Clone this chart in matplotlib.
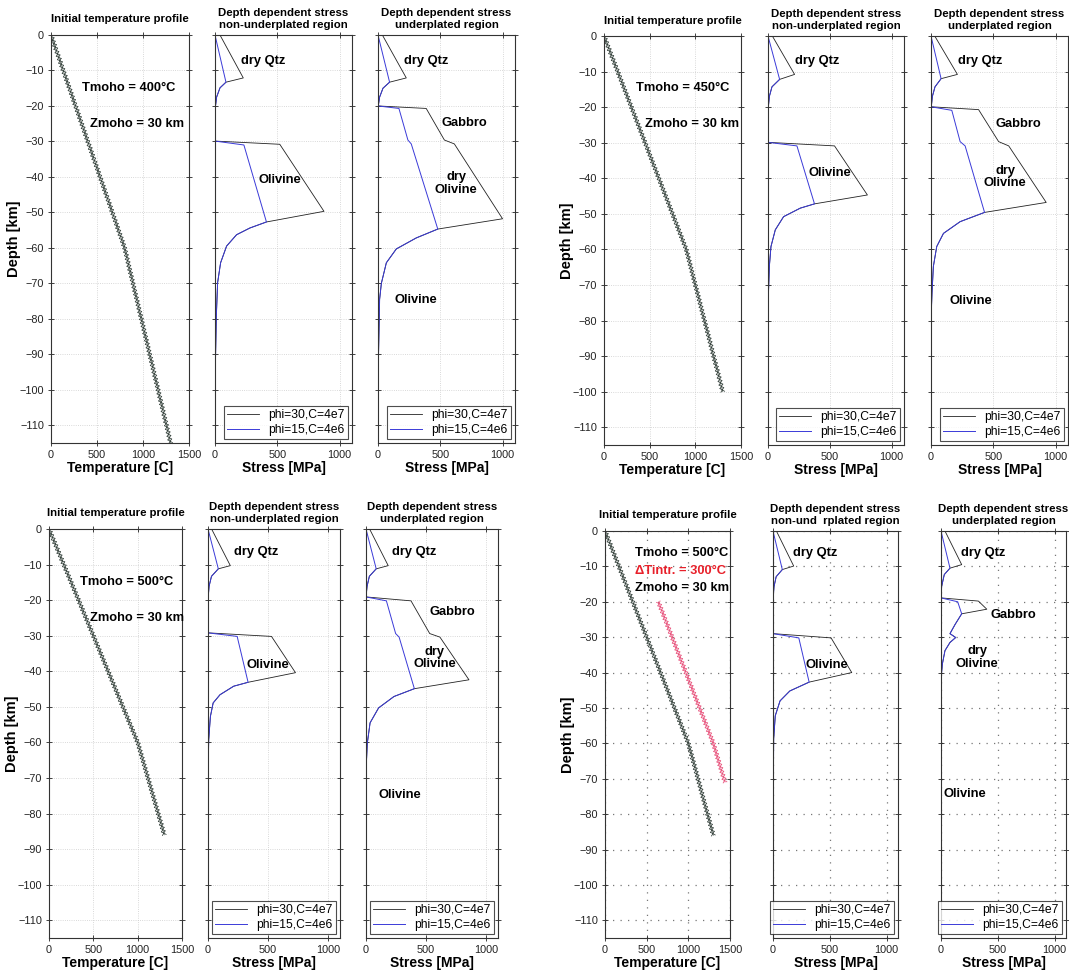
import numpy as np
import matplotlib
matplotlib.use('Agg')
import matplotlib.pyplot as plt
from matplotlib import patheffects

plt.rcParams['font.family'] = ['Liberation Sans', 'DejaVu Sans']
plt.rcParams['axes.unicode_minus'] = True

######################
# Temperature profiles (T in C, depth in km)
tl_temp_T = [0, 400, 800, 1300]
tl_temp_z = [0, -30, -60, -115]
tr_temp_T = [0, 450, 900, 1300]
tr_temp_z = [0, -30, -60, -100]
bl_temp_T = [0, 500, 1000, 1300]
bl_temp_z = [0, -30, -60, -86]
br_temp_T = [0, 500, 1000, 1300]
br_temp_z = [0, -30, -60, -86]
br_intr_T = [640, 1300, 1440]
br_intr_z = [-20, -60, -71]

######################
# Stress profiles, (stress MPa, depth km)
# top left, Tmoho = 400
tl_nu_black = [(40, 0), (227, -12.1), (88, -13.3), (40, -14.9), (13, -17.5), (3, -20.3), (0, -24),
               (0, -29.9), (520, -30.8), (875, -49.7), (413, -52.7), (280, -54.4), (173, -56.3),
               (93, -59.5), (45, -64.2), (21, -69.8), (11, -79), (3, -93), (0, -99)]
tl_nu_blue = [(0, 0), (88, -13.3), (40, -14.9), (13, -17.5), (3, -20.3), (0, -24),
              (0, -29.9), (232, -31), (413, -52.7), (280, -54.4), (173, -56.3),
              (93, -59.5), (45, -64.2), (21, -69.8), (11, -79), (3, -93), (0, -99)]
tl_u_black = [(35, 0), (227, -12.1), (93, -13.3), (40, -15), (13, -17.5), (3, -19.8), (0, -20),
              (387, -20.7), (533, -29.6), (613, -30.7), (1000, -51.8), (480, -54.7), (307, -57.2),
              (147, -60.3), (67, -64.2), (27, -70), (13, -74.5), (5, -88.5), (0, -100)]
tl_u_blue = [(0, 0), (93, -13.3), (40, -15), (13, -17.5), (3, -19.8), (0, -20),
             (168, -20.7), (240, -29.6), (267, -30.7), (480, -54.7), (307, -57.2),
             (147, -60.3), (67, -64.2), (27, -70), (13, -74.5), (5, -88.5), (0, -100)]

# top right, Tmoho = 450
tr_nu_black = [(35, 0), (215, -10.8), (94, -12.2), (32, -14.3), (11, -17), (3, -19.9), (0, -22),
               (0, -29.9), (538, -30.9), (804, -44.7), (376, -47.2), (261, -48.4), (126, -50.8),
               (59, -54.5), (24, -59.2), (11, -64.8), (4, -72), (0, -80)]
tr_nu_blue = [(0, 0), (94, -12.2), (32, -14.3), (11, -17), (3, -19.9), (0, -22),
              (0, -29.9), (234, -30.9), (376, -47.2), (261, -48.4), (126, -50.8),
              (59, -54.5), (24, -59.2), (11, -64.8), (4, -72), (0, -80)]
tr_u_black = [(30, 0), (212, -10.8), (81, -12), (32, -14.3), (11, -17), (3, -19.7), (0, -19.9),
              (382, -20.7), (543, -29.7), (624, -30.9), (925, -46.8), (430, -49.6), (234, -52.2),
              (100, -55.5), (46, -59.2), (19, -64.8), (8, -72.3), (0, -80)]
tr_u_blue = [(0, 0), (81, -12), (32, -14.3), (11, -17), (3, -19.7), (0, -19.9),
             (167, -20.9), (234, -29.7), (274, -30.9), (430, -49.6), (234, -52.2),
             (100, -55.5), (46, -59.2), (19, -64.8), (8, -72.3), (0, -80)]

# bottom left, Tmoho = 500
bl_nu_black = [(30, 0), (186, -10.3), (86, -11.2), (29, -13.3), (9, -16.1), (0, -19.9),
               (0, -29.2), (529, -30.2), (729, -40.4), (334, -43.1), (214, -44.2), (100, -46.6),
               (43, -48.9), (20, -52.7), (6, -59.2), (2, -66), (0, -73)]
bl_nu_blue = [(0, 0), (86, -11.2), (29, -13.3), (9, -16.1), (0, -19.9),
              (0, -29.2), (243, -30.2), (334, -43.1), (214, -44.2), (100, -46.6),
              (43, -48.9), (20, -52.7), (6, -59.2), (2, -66), (0, -73)]
bl_u_black = [(30, 0), (185, -10.3), (85, -11.2), (28, -13.3), (9, -16.1), (0, -19.1),
              (375, -20.2), (531, -29.4), (616, -30.4), (858, -42.4), (403, -44.9), (233, -47.1),
              (105, -50.3), (34, -54.5), (11, -60.2), (0, -68)]
bl_u_blue = [(0, 0), (85, -11.2), (28, -13.3), (9, -16.1), (0, -19.1),
             (170, -20.2), (247, -29.4), (276, -30.4), (403, -44.9), (233, -47.1),
             (105, -50.3), (34, -54.5), (11, -60.2), (0, -68)]

# bottom right, Tmoho = 500 + intrusion
br_nu_black = [(30, 0), (182, -9.9), (82, -10.9), (28, -12.9), (9, -15.7), (0, -19.5),
               (0, -29), (511, -30.2), (693, -40), (318, -42.7), (148, -45.2), (62, -48),
               (20, -52.2), (6, -58.7), (2, -75), (0, -86)]
br_nu_blue = [(0, 0), (82, -10.9), (28, -12.9), (9, -15.7), (0, -19.5),
              (0, -29), (227, -30.2), (318, -42.7), (148, -45.2), (62, -48),
              (20, -52.2), (6, -58.7), (2, -75), (0, -86)]
br_u_black = [(35, 0), (182, -9.5), (79, -10.5), (29, -12.3), (6, -15.6), (0, -18.9),
              (329, -19.8), (403, -22.1), (182, -23.4), (124, -26.4), (79, -29), (129, -30.1),
              (79, -31.5), (35, -33.8), (12, -37.6), (0, -42)]
br_u_blue = [(0, 0), (79, -10.5), (29, -12.3), (6, -15.6), (0, -18.9),
             (147, -20), (182, -23.4), (124, -26.4), (79, -29), (129, -30.1),
             (79, -31.5), (35, -33.8), (12, -37.6), (0, -42)]

legend_labels = ['phi=30,C=4e7', 'phi=15,C=4e6']

######################
W, H = 1069, 974
fig = plt.figure(figsize=(W / 100, H / 100), dpi=100)


def box(x0, y0, x1, y1):
    return fig.add_axes([x0 / W, 1 - y1 / H, (x1 - x0) / W, (y1 - y0) / H])


def style(ax, xlim, xticks, strong_grid):
    ax.set_xlim(*xlim)
    ax.set_xticks(xticks)
    ax.set_ylim(-115, 0)
    ax.set_yticks(np.arange(-110, 1, 10))
    if strong_grid:
        ax.grid(True, color='#777777', ls=(0, (1, 5)), lw=0.9)
    else:
        ax.grid(True, color='#cccccc', ls=':', lw=0.6)
    ax.tick_params(direction='inout', length=4, width=0.6, top=True, right=True,
                   labelsize=7.8, pad=3, colors='#222222')
    for sp in ax.spines.values():
        sp.set_linewidth(0.8)
        sp.set_color('#333333')


def xline(ax, x, y, color):
    # chain of small crosses along the profile
    pe = [patheffects.TickedStroke(spacing=2.6, angle=a, length=0.75, linewidth=0.55)
          for a in (45, -135, 135, -45)]
    ax.plot(x, y, color=color, lw=0.4, path_effects=pe + [patheffects.Normal()])


def temp_panel(box_xy, T, z, tlabels, strong_grid=False):
    ax = box(*box_xy)
    style(ax, (0, 1500), [0, 500, 1000, 1500], strong_grid)
    xline(ax, T, z, '#33403a')
    ax.set_title('Initial temperature profile', fontsize=8.2, fontweight='bold', pad=9)
    ax.set_xlabel('Temperature [C]', fontsize=10, fontweight='bold', labelpad=1)
    ax.set_ylabel('Depth [km]', fontsize=10.5, fontweight='bold', labelpad=-1)
    for (tx, ty, s, c) in tlabels:
        ax.text(tx, ty, s, color=c, fontsize=9.3, fontweight='bold', ha='center', va='center')
    return ax


def stress_panel(box_xy, black, blue, title, labels, strong_grid=False):
    ax = box(*box_xy)
    style(ax, (0, 1100), [0, 500, 1000], strong_grid)
    ax.set_yticklabels([])
    bs, bz = zip(*black)
    us, uz = zip(*blue)
    ax.plot(bs, bz, color='#222222', lw=0.6, label=legend_labels[0])
    ax.plot(us, uz, color='#3a3ad8', lw=0.7, label=legend_labels[1])
    ax.set_title(title, fontsize=8.2, fontweight='bold', pad=5, linespacing=1.3)
    ax.set_xlabel('Stress [MPa]', fontsize=10, fontweight='bold', labelpad=1)
    for (sx, sy, s) in labels:
        ax.text(sx, sy, s, fontsize=9.3, fontweight='bold', ha='center', va='center',
                linespacing=1.05)
    leg = ax.legend(loc='lower right', fontsize=8.7, frameon=True, fancybox=False,
                    borderaxespad=0.3, handlelength=2.6, handletextpad=0.8,
                    borderpad=0.3, labelspacing=0.2)
    leg.get_frame().set_edgecolor('#222222')
    leg.get_frame().set_linewidth(0.8)
    return ax


t_nu = 'Depth dependent stress\nnon-underplated region'
t_u = 'Depth dependent stress\nunderplated region'

# top left
temp_panel((51, 35, 189, 443), tl_temp_T, tl_temp_z,
           [(843, -14.9, 'Tmoho = 400°C', 'black'), (930, -25, 'Zmoho = 30 km', 'black')])
stress_panel((215, 35, 352, 443), tl_nu_black, tl_nu_blue, t_nu,
             [(387, -7.2, 'dry Qtz'), (520, -40.8, 'Olivine')])
stress_panel((378, 35, 515, 443), tl_u_black, tl_u_blue, t_u,
             [(387, -7.2, 'dry Qtz'), (693, -24.8, 'Gabbro'), (627, -41.8, 'dry\nOlivine'),
              (307, -74.8, 'Olivine')])

# top right
temp_panel((604, 36, 741, 445), tr_temp_T, tr_temp_z,
           [(865, -14.6, 'Tmoho = 450°C', 'black'), (963, -24.7, 'Zmoho = 30 km', 'black')])
stress_panel((768, 36, 904, 445), tr_nu_black, tr_nu_blue, t_nu,
             [(395, -7.1, 'dry Qtz'), (497, -38.6, 'Olivine')])
stress_panel((931, 36, 1068, 445), tr_u_black, tr_u_blue, t_u,
             [(395, -7.1, 'dry Qtz'), (704, -24.8, 'Gabbro'), (597, -39.6, 'dry\nOlivine'),
              (320, -74.6, 'Olivine')])

# bottom left
temp_panel((49, 529, 182, 938), bl_temp_T, bl_temp_z,
           [(880, -14.9, 'Tmoho = 500°C', 'black'), (992, -25, 'Zmoho = 30 km', 'black')])
stress_panel((208, 529, 340, 938), bl_nu_black, bl_nu_blue, t_nu,
             [(400, -6.5, 'dry Qtz'), (500, -38.3, 'Olivine')])
stress_panel((366, 529, 498, 938), bl_u_black, bl_u_blue, t_u,
             [(403, -6.5, 'dry Qtz'), (716, -23.4, 'Gabbro'), (574, -36.3, 'dry\nOlivine'),
              (284, -74.9, 'Olivine')])

# bottom right
ax = temp_panel((605, 531, 730, 938), br_temp_T, br_temp_z,
                [(924, -6.2, 'Tmoho = 500°C', 'black'), (900, -11.3, 'ΔTintr. = 300°C', '#e8202a'),
                 (924, -16.1, 'Zmoho = 30 km', 'black')], strong_grid=True)
xline(ax, br_intr_T, br_intr_z, '#e8507a')
stress_panel((773, 531, 898, 938), br_nu_black, br_nu_blue,
             'Depth dependent stress\nnon-und  rplated region',
             [(375, -6.1, 'dry Qtz'), (474, -37.9, 'Olivine')], strong_grid=True)
stress_panel((941, 531, 1066, 938), br_u_black, br_u_blue, t_u,
             [(375, -6.1, 'dry Qtz'), (639, -23.7, 'Gabbro'), (318, -35.8, 'dry\nOlivine'),
              (213, -74.4, 'Olivine')], strong_grid=True)

fig.savefig('out.png', dpi=100)
